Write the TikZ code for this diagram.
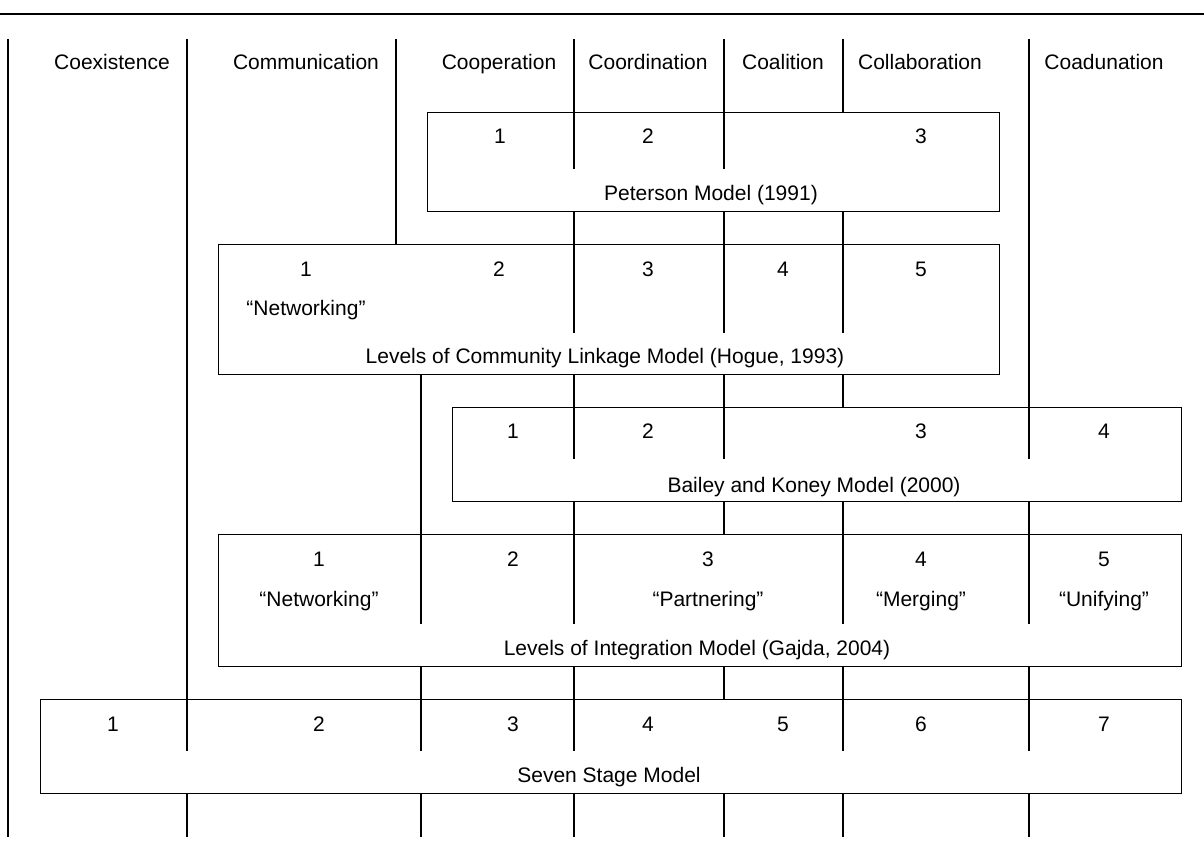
\documentclass[tikz,border=0pt]{standalone}
\usepackage{fontspec}
\setmainfont{Liberation Sans}
\begin{document}
\begin{tikzpicture}[x=1pt,y=-1pt,line width=1.2pt,
  box/.style={draw,inner sep=0pt,anchor=north west},
  lbl/.style={anchor=base,inner sep=0pt,font=\fontsize{21}{25}\selectfont}]
\useasboundingbox (0,0) rectangle (1204,864);
% top rule
\coordinate (rl) at (0,14); \coordinate (rr) at (1204,14);
\draw (rl) -- (rr);
% column coordinates
\coordinate (tA) at (8,39);
\coordinate (tB) at (187,39);
\coordinate (tC) at (396,39);
\coordinate (tD) at (574,39);
\coordinate (tE) at (724,39);
\coordinate (tF) at (843,39);
\coordinate (tG) at (1029,39);
\coordinate (tH) at (421,39);
\coordinate (bot) at (0,837);
% boxes
\node[box,minimum width=572,minimum height=99] (pet) at (427,112) {};
\node[box,minimum width=781,minimum height=130] (hog) at (218,244) {};
\node[box,minimum width=729,minimum height=94] (bai) at (452,407) {};
\node[box,minimum width=963,minimum height=132] (gaj) at (218,534) {};
\node[box,minimum width=1141,minimum height=94] (sev) at (40,699) {};
% internal stops
\coordinate (petS) at (0,169);
\coordinate (hogS) at (0,333);
\coordinate (baiS) at (0,459);
\coordinate (gajS) at (0,624);
\coordinate (sevS) at (0,751);
% dividers
\draw (tA) -- (bot -| tA);
\draw (tB) -- (sevS -| tB) (sev.south -| tB) -- (bot -| tB);
\draw (tC) -- (hog.north -| tC);
\draw (tD) -- (petS -| tD) (pet.south -| tD) -- (hogS -| tD) (hog.south -| tD) -- (baiS -| tD)
      (bai.south -| tD) -- (gajS -| tD) (gaj.south -| tD) -- (sevS -| tD) (sev.south -| tD) -- (bot -| tD);
\draw (tE) -- (petS -| tE) (pet.south -| tE) -- (hogS -| tE) (hog.south -| tE) -- (baiS -| tE)
      (bai.south -| tE) -- (gaj.north -| tE) (gaj.south -| tE) -- (sev.north -| tE) (sev.south -| tE) -- (bot -| tE);
\draw (tF) -- (pet.north -| tF) (pet.south -| tF) -- (hogS -| tF) (hog.south -| tF) -- (bai.north -| tF)
      (bai.south -| tF) -- (gajS -| tF) (gaj.south -| tF) -- (sevS -| tF) (sev.south -| tF) -- (bot -| tF);
\draw (tG) -- (baiS -| tG) (bai.south -| tG) -- (gajS -| tG) (gaj.south -| tG) -- (sevS -| tG) (sev.south -| tG) -- (bot -| tG);
\draw (hog.south -| tH) -- (gajS -| tH) (gaj.south -| tH) -- (sevS -| tH) (sev.south -| tH) -- (bot -| tH);
% headers
\node[lbl] (h1) at (112,70) {Coexistence};
\node[lbl] (h2) at (306,70) {Communication};
\node[lbl] (h3) at (499,70) {Cooperation};
\node[lbl] (h4) at (648,70) {Coordination};
\node[lbl] (h5) at (783,70) {Coalition};
\node[lbl] (h6) at (920,70) {Collaboration};
\node[lbl] (h7) at (1104,70) {Coadunation};
% Peterson
\node[lbl] (p1) at (500,143) {1};
\node[lbl] (p2) at (648,143) {2};
\node[lbl] (p3) at (921,143) {3};
\node[lbl] (pt) at (711,200) {Peterson Model (1991)};
% Hogue
\node[lbl] (g1) at (306,276) {1};
\node[lbl] (g2) at (499,276) {2};
\node[lbl] (g3) at (648,276) {3};
\node[lbl] (g4) at (783,276) {4};
\node[lbl] (g5) at (921,276) {5};
\node[lbl] (gn) at (306,315) {“Networking”};
\node[lbl] (gt) at (605,363) {Levels of Community Linkage Model (Hogue, 1993)};
% Bailey
\node[lbl] (b1) at (513,438) {1};
\node[lbl] (b2) at (648,438) {2};
\node[lbl] (b3) at (921,438) {3};
\node[lbl] (b4) at (1104,438) {4};
\node[lbl] (bt) at (814,492) {Bailey and Koney Model (2000)};
% Gajda
\node[lbl] (j1) at (319,566) {1};
\node[lbl] (j2) at (513,566) {2};
\node[lbl] (j3) at (708,566) {3};
\node[lbl] (j4) at (921,566) {4};
\node[lbl] (j5) at (1104,566) {5};
\node[lbl] (jn1) at (319,606) {“Networking”};
\node[lbl] (jn3) at (708,606) {“Partnering”};
\node[lbl] (jn4) at (921,606) {“Merging”};
\node[lbl] (jn5) at (1104,606) {“Unifying”};
\node[lbl] (jt) at (697,655) {Levels of Integration Model (Gajda, 2004)};
% Seven stage
\node[lbl] (s1) at (113,731) {1};
\node[lbl] (s2) at (319,731) {2};
\node[lbl] (s3) at (513,731) {3};
\node[lbl] (s4) at (648,731) {4};
\node[lbl] (s5) at (783,731) {5};
\node[lbl] (s6) at (921,731) {6};
\node[lbl] (s7) at (1104,731) {7};
\node[lbl] (st) at (609,782) {Seven Stage Model};
\end{tikzpicture}
\end{document}
